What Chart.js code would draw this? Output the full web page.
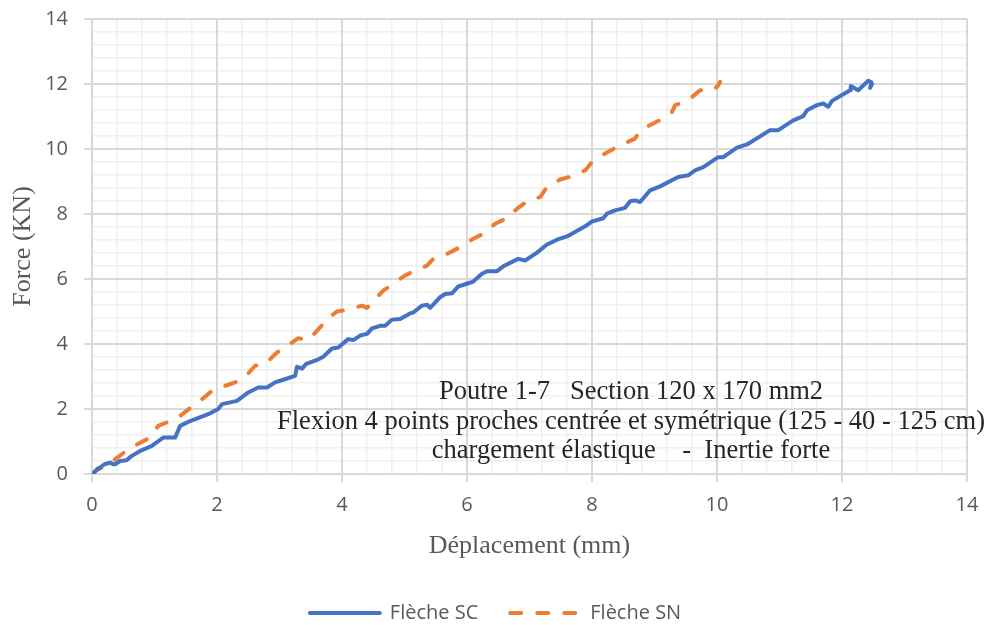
<!DOCTYPE html>
<html>
<head>
<meta charset="utf-8">
<title>Poutre 1-7 - Force / Deplacement</title>
<script src="https://cdn.jsdelivr.net/npm/chart.js@4.4.0/dist/chart.umd.min.js"></script>
<style>
  html, body { margin: 0; padding: 0; background: #ffffff; }
</style>
</head>
<body>
<canvas id="myChart" width="991" height="625"></canvas>
<script>
// series "Flèche SC" (deplacement mm / force KN)
const scX = [0.02, 0.08, 0.13, 0.20, 0.29, 0.34, 0.37, 0.45, 0.55, 0.63, 0.77, 0.95, 1.14, 1.33, 1.41, 1.57, 1.86, 2.02, 2.08, 2.32,
  2.50, 2.66, 2.80, 2.93, 3.06, 3.25, 3.28, 3.36, 3.42, 3.60, 3.70, 3.84, 3.94, 4.10, 4.18, 4.29, 4.40, 4.48, 4.61, 4.69,
  4.80, 4.93, 5.09, 5.14, 5.28, 5.36, 5.41, 5.57, 5.65, 5.76, 5.86, 6.02, 6.10, 6.24, 6.32, 6.48, 6.58, 6.82, 6.93, 7.12,
  7.28, 7.44, 7.60, 7.89, 8.00, 8.18, 8.24, 8.37, 8.53, 8.61, 8.69, 8.77, 8.93, 9.09, 9.38, 9.54, 9.65, 9.78, 10.02, 10.10,
  10.32, 10.48, 10.85, 10.98, 11.22, 11.38, 11.44, 11.60, 11.70, 11.78, 11.84, 12.13, 12.14, 12.26, 12.42, 12.47, 12.45, 12.48];
const scY = [0.00, 0.15, 0.20, 0.30, 0.35, 0.30, 0.30, 0.40, 0.42, 0.55, 0.71, 0.86, 1.12, 1.12, 1.48, 1.63, 1.84, 2.00, 2.15, 2.25,
  2.51, 2.66, 2.66, 2.82, 2.90, 3.02, 3.30, 3.24, 3.38, 3.51, 3.61, 3.86, 3.89, 4.15, 4.12, 4.26, 4.31, 4.48, 4.56, 4.56,
  4.75, 4.77, 4.94, 4.97, 5.18, 5.21, 5.11, 5.44, 5.54, 5.56, 5.77, 5.87, 5.92, 6.16, 6.24, 6.24, 6.39, 6.62, 6.57, 6.81,
  7.06, 7.21, 7.31, 7.62, 7.77, 7.87, 8.01, 8.11, 8.19, 8.39, 8.42, 8.37, 8.73, 8.85, 9.14, 9.19, 9.34, 9.44, 9.75, 9.75,
  10.04, 10.14, 10.58, 10.58, 10.88, 11.01, 11.19, 11.35, 11.40, 11.30, 11.48, 11.81, 11.94, 11.81, 12.10, 12.05, 11.88, 12.00];

// series "Flèche SN"
const snX = [0.00, 0.05, 0.26, 0.37, 0.58, 0.74, 0.93, 1.06, 1.25, 1.41, 1.60, 1.73, 1.92, 2.08, 2.29, 2.45, 2.61, 2.77, 2.96, 3.09,
  3.30, 3.46, 3.65, 3.76, 3.92, 4.08, 4.32, 4.40, 4.48, 4.66, 4.80, 5.01, 5.17, 5.36, 5.46, 5.70, 5.89, 6.10, 6.26, 6.45,
  6.64, 6.80, 6.98, 7.17, 7.28, 7.49, 7.68, 7.89, 8.00, 8.21, 8.40, 8.61, 8.69, 8.74, 8.90, 9.09, 9.28, 9.33, 9.41, 9.57,
  9.73, 9.94, 10.02, 10.05];
const snY = [0.00, 0.09, 0.30, 0.45, 0.76, 0.93, 1.12, 1.48, 1.63, 1.79, 2.07, 2.25, 2.56, 2.68, 2.82, 2.99, 3.33, 3.38, 3.74, 3.89,
  4.18, 4.12, 4.51, 4.77, 5.00, 5.05, 5.18, 5.11, 5.28, 5.64, 5.83, 6.11, 6.26, 6.41, 6.62, 6.79, 6.98, 7.24, 7.39, 7.70,
  7.87, 8.16, 8.42, 8.52, 8.83, 9.06, 9.16, 9.34, 9.60, 9.86, 10.06, 10.25, 10.32, 10.49, 10.71, 10.89, 11.14, 11.35, 11.40, 11.55,
  11.81, 11.81, 11.96, 12.07];

const seriesNames = ['Flèche SC', 'Flèche SN'];
const xTitle = 'Déplacement (mm)';
const yTitle = 'Force (KN)';
const noteLines = [
  'Poutre 1-7   Section 120 x 170 mm2',
  'Flexion 4 points proches centrée et symétrique (125 - 40 - 125 cm)',
  'chargement élastique    -  Inertie forte'
];

function toPoints(xs, ys) {
  let pts = [];
  for (let i = 0; i < xs.length; i++) {
    pts.push({x: xs[i], y: ys[i]});
  }
  return pts;
}

const serif = '"Liberation Serif", "Times New Roman", serif';
const sans = '"Open Sans", "Noto Sans", sans-serif';

// text box written inside the plot
const notePlugin = {
  id: 'note',
  afterDraw(chart) {
    const ctx = chart.ctx;
    ctx.save();
    ctx.font = '26.5px ' + serif;
    ctx.fillStyle = '#262626';
    ctx.textAlign = 'center';
    ctx.textBaseline = 'alphabetic';
    const cx = 631;
    const base = [399, 428.5, 458];
    for (let i = 0; i < noteLines.length; i++) {
      ctx.fillText(noteLines[i], cx, base[i]);
    }
    ctx.restore();
  }
};

// legend samples drawn as lines, keeping the dataset dash
function legendLabels(chart) {
  const items = Chart.defaults.plugins.legend.labels.generateLabels(chart);
  items.forEach(function (item) {
    const ds = chart.data.datasets[item.datasetIndex];
    item.lineDash = ds.borderDash || [];
    item.lineCap = 'round';
    item.lineWidth = ds.borderWidth;
    item.strokeStyle = ds.borderColor;
  });
  return items;
}

const ctx = document.getElementById('myChart').getContext('2d');
const chart = new Chart(ctx, {
  type: 'scatter',
  data: {
    datasets: [{
      label: seriesNames[0],
      data: toPoints(scX, scY),
      showLine: true,
      borderColor: '#4472C4',
      backgroundColor: '#4472C4',
      borderWidth: 4,
      borderCapStyle: 'round',
      borderJoinStyle: 'round',
      pointRadius: 0,
      tension: 0
    }, {
      label: seriesNames[1],
      data: toPoints(snX, snY),
      showLine: true,
      borderColor: '#ED7D31',
      backgroundColor: '#ED7D31',
      borderWidth: 4,
      borderDash: [11, 16],
      borderCapStyle: 'round',
      borderJoinStyle: 'round',
      pointRadius: 0,
      tension: 0
    }]
  },
  options: {
    responsive: false,
    animation: false,
    layout: { padding: { top: 19, right: 0, bottom: -8, left: 0 } },
    plugins: {
      tooltip: { enabled: false },
      legend: {
        position: 'bottom',
        labels: {
          usePointStyle: true,
          pointStyle: 'line',
          pointStyleWidth: 70,
          padding: 32,
          color: '#595959',
          font: { family: sans, size: 20 },
          generateLabels: legendLabels
        }
      }
    },
    scales: {
      xMinor: {
        type: 'linear', position: 'bottom', min: 0, max: 14, z: -1,
        ticks: { display: false, stepSize: 0.4 },
        grid: { color: '#f0f0f0', lineWidth: 1.5, drawTicks: false },
        border: { display: false }
      },
      // minor grid, placed on the right so it also keeps the right margin
      yMinor: {
        type: 'linear', position: 'right', min: 0, max: 14, z: -1,
        ticks: { display: false, stepSize: 0.4 },
        grid: { color: '#f0f0f0', lineWidth: 1.5, drawTicks: false },
        border: { display: false },
        afterFit(scale) { scale.width = 24; }
      },
      x: {
        type: 'linear', position: 'bottom', min: 0, max: 14,
        ticks: { stepSize: 2, padding: 11, color: '#595959', font: { family: sans, size: 20 } },
        grid: { color: '#d9d9d9', lineWidth: 2, tickLength: 8 },
        border: { color: '#d9d9d9', width: 2 },
        title: { display: true, text: xTitle, color: '#595959', font: { family: serif, size: 26 }, padding: { top: 0, bottom: 9 } },
        afterFit(scale) { scale.height = 97; }
      },
      y: {
        type: 'linear', position: 'left', min: 0, max: 14,
        ticks: { stepSize: 2, padding: 16, color: '#595959', font: { family: sans, size: 20 } },
        grid: { color: '#d9d9d9', lineWidth: 2, tickLength: 8 },
        border: { color: '#d9d9d9', width: 2 },
        title: { display: true, text: yTitle, color: '#595959', font: { family: serif, size: 26 }, padding: { top: 8, bottom: 0 } },
        afterFit(scale) {
          scale.width = 92;
          scale.paddingTop = 0;
          scale.paddingBottom = 0;
        }
      }
    }
  },
  plugins: [notePlugin]
});
</script>
</body>
</html>
